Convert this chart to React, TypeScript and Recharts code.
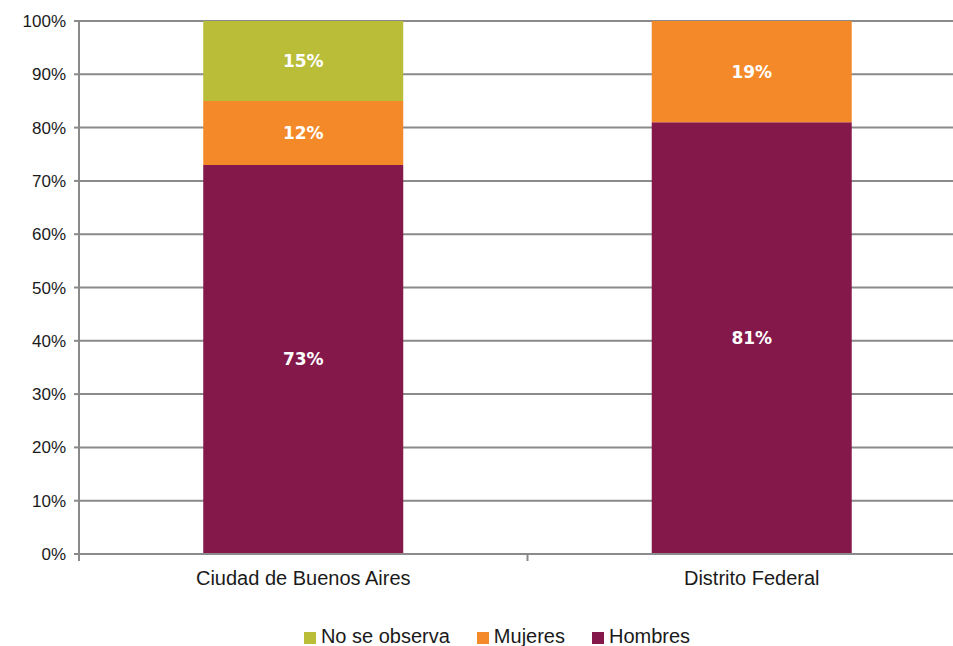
import { BarChart, Bar, XAxis, YAxis, CartesianGrid, LabelList } from "recharts";

const regions = ["Ciudad de Buenos Aires", "Distrito Federal"];
const hombres = [73, 81];
const mujeres = [12, 19];
const noObserva = [15, 0];
const yTicks = [0, 10, 20, 30, 40, 50, 60, 70, 80, 90, 100];

const data = regions.map((name, i) => ({
  name,
  pos: i + 0.5,
  hombres: hombres[i],
  mujeres: mujeres[i],
  noObserva: noObserva[i] || null,
}));

const legendItems = [
  { label: "No se observa", color: "#b9bd37" },
  { label: "Mujeres", color: "#f4892a" },
  { label: "Hombres", color: "#85184b" },
];

const FONT = "'Liberation Sans', Arial, sans-serif";
const GRID = "#8a8a8a";

const labelStyle = {
  fill: "#ffffff",
  fontSize: 17,
  fontFamily: "'DejaVu Sans', sans-serif",
  fontWeight: 600,
};

const pct = (v: any) => (v ? `${v}%` : "");

export default function App() {
  return (
    <div
      style={{
        position: "absolute",
        left: 0,
        top: 0,
        width: 953,
        height: 646,
        overflow: "hidden",
        background: "#fff",
        fontFamily: FONT,
      }}
    >
      <BarChart
        width={976}
        height={600}
        data={data}
        margin={{ top: 21, right: 0, left: 0, bottom: 0 }}
        barCategoryGap="27.7%"
      >
        <CartesianGrid vertical={false} stroke={GRID} strokeWidth={2} xAxisId="cat" />
        {/* boundary ticks between categories, Excel style */}
        <XAxis
          dataKey="pos"
          type="number"
          domain={[0, 2]}
          ticks={[0, 1, 2]}
          interval={0}
          height={1}
          stroke={GRID}
          strokeWidth={2}
          tickSize={7}
          tickFormatter={() => ""}
        />
        <XAxis
          xAxisId="cat"
          dataKey="name"
          height={45}
          axisLine={false}
          tickLine={false}
          tickSize={0}
          tickMargin={16}
          tick={{ fill: "#1a1a1a", fontSize: 20, fontFamily: FONT }}
        />
        <YAxis
          width={79}
          domain={[0, 100]}
          ticks={yTicks}
          tickFormatter={(v) => `${v}%`}
          stroke={GRID}
          strokeWidth={2}
          tickSize={5}
          tickMargin={8}
          tick={{ fill: "#1a1a1a", fontSize: 17, fontFamily: FONT }}
        />
        <Bar dataKey="hombres" stackId="a" xAxisId="cat" fill="#85184b" isAnimationActive={false}>
          <LabelList dataKey="hombres" position="center" formatter={pct} style={labelStyle} />
        </Bar>
        <Bar dataKey="mujeres" stackId="a" xAxisId="cat" fill="#f4892a" isAnimationActive={false}>
          <LabelList dataKey="mujeres" position="center" formatter={pct} style={labelStyle} />
        </Bar>
        <Bar dataKey="noObserva" stackId="a" xAxisId="cat" fill="#b9bd37" isAnimationActive={false}>
          <LabelList dataKey="noObserva" position="center" formatter={pct} style={labelStyle} />
        </Bar>
      </BarChart>
      <div
        style={{
          position: "absolute",
          top: 624,
          left: 0,
          width: 953,
          display: "flex",
          justifyContent: "center",
          gap: 27,
          fontSize: 20,
          color: "#1a1a1a",
          lineHeight: "24px",
          paddingLeft: 41,
          boxSizing: "border-box",
        }}
      >
        {legendItems.map((it) => (
          <span key={it.label} style={{ display: "flex", alignItems: "center" }}>
            <span
              style={{
                display: "inline-block",
                width: 12,
                height: 12,
                background: it.color,
                marginRight: 5,
                marginTop: 3,
              }}
            />
            {it.label}
          </span>
        ))}
      </div>
    </div>
  );
}
